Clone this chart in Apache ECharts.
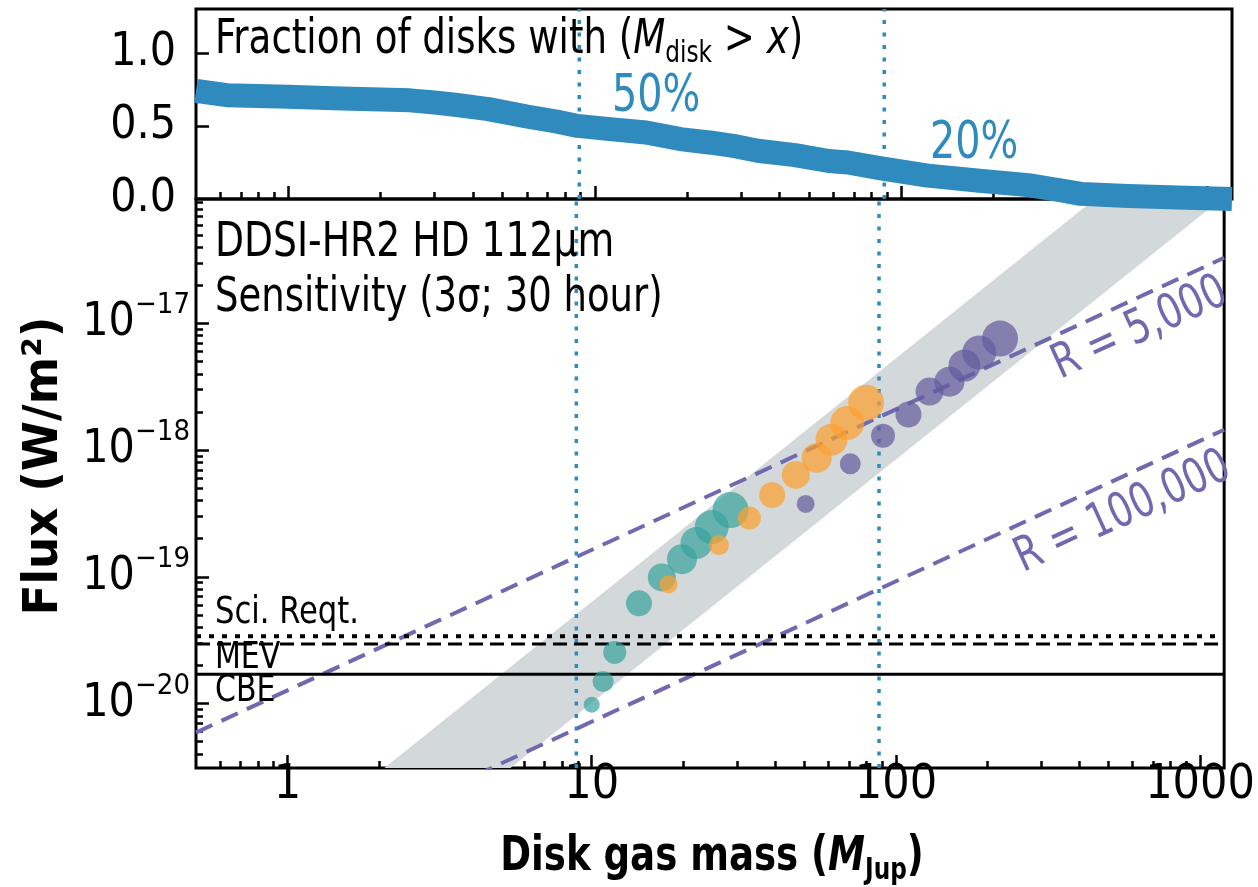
<!DOCTYPE html>
<html>
<head>
<meta charset="utf-8">
<script src="https://cdn.jsdelivr.net/npm/echarts@6/dist/echarts.min.js"></script>
<style>
  html, body { margin: 0; padding: 0; background: #fff; }
  #chart { width: 1258px; height: 887px; }
</style>
</head>
<body>
<div id="chart"></div>
<script>
// ---- data -------------------------------------------------------------
// cumulative fraction of disks with gas mass above x (top panel)
const fracMass  = [0.5, 0.63, 1.0, 1.4, 2.0, 2.5, 3.0, 3.5, 4.5, 6.0, 7.5, 8.8, 11, 14.7, 19, 24, 29, 34, 45, 58, 67, 86, 122, 180, 259, 330, 385, 550, 800, 1200];
const fracValue = [0.74, 0.71, 0.70, 0.69, 0.68, 0.675, 0.66, 0.645, 0.615, 0.565, 0.53, 0.50, 0.48, 0.455, 0.41, 0.385, 0.36, 0.33, 0.30, 0.26, 0.25, 0.21, 0.16, 0.125, 0.095, 0.06, 0.035, 0.02, 0.01, 0.0];

// disk models: [gas mass (M_Jup), HD 112um line flux (W/m^2), marker size]
const tealDisks = [
  [10.0, 9.8e-21, 16], [10.9, 1.49e-20, 21], [11.9, 2.53e-20, 23],
  [14.3, 6.18e-20, 26], [17.0, 9.9e-20, 28], [19.8, 1.38e-19, 30],
  [22.1, 1.85e-19, 32], [24.8, 2.47e-19, 34], [28.6, 3.37e-19, 36]
];
const orangeDisks = [
  [17.9, 8.73e-20, 18], [26.2, 1.78e-19, 20], [33.0, 2.91e-19, 23],
  [39.2, 4.43e-19, 26], [46.9, 6.37e-19, 28], [54.9, 8.69e-19, 30],
  [61.4, 1.21e-18, 32], [69.2, 1.64e-18, 34], [79.8, 2.37e-18, 36]
];
const purpleDisks = [
  [50.5, 3.76e-19, 18], [70.8, 7.8e-19, 21], [90.7, 1.30e-18, 24],
  [110, 1.91e-18, 26], [129, 2.90e-18, 28], [150, 3.47e-18, 30],
  [168, 4.65e-18, 32], [188, 5.89e-18, 34], [220, 7.6e-18, 36]
];

// model envelope (grey band): lower and upper edges
const bandUpper = [[0.5, 2.0e-22], [1200, 6.3e-16]];
const bandLower = [[0.5, 3.2e-23], [1200, 1.0e-16]];

// line sensitivity at two resolving powers
const r5000Line   = [[0.5, 5.9e-21], [1200, 3.3e-17]];
const r100000Line = [[0.5, 2.6e-22], [1200, 1.45e-18]];

// instrument sensitivity levels
const levelNames = ['Sci. Reqt.', 'MEV', 'CBE'];
const levelFlux  = [3.4e-20, 2.95e-20, 1.7e-20];

// masses where 50% and 20% of disks lie above
const splitMasses = [8.9, 88];
const splitLabels = ['50%', '20%'];

// axes
const massRange = [0.5, 1200];
const fluxRange = [3.1e-21, 9.6e-17];
const fracRange = [0, 1.3];
const massTicks = [1, 10, 100, 1000];
const massMinorTicks = [0.6, 0.7, 0.8, 0.9, 2, 3, 4, 5, 6, 7, 8, 9, 20, 30, 40, 50, 60, 70, 80, 90, 200, 300, 400, 500, 600, 700, 800, 900];
const fluxTicks = [1e-20, 1e-19, 1e-18, 1e-17];
const fluxMinorTicks = [4e-21, 5e-21, 6e-21, 7e-21, 8e-21, 9e-21,
  2e-20, 3e-20, 4e-20, 5e-20, 6e-20, 7e-20, 8e-20, 9e-20,
  2e-19, 3e-19, 4e-19, 5e-19, 6e-19, 7e-19, 8e-19, 9e-19,
  2e-18, 3e-18, 4e-18, 5e-18, 6e-18, 7e-18, 8e-18, 9e-18,
  2e-17, 3e-17, 4e-17, 5e-17, 6e-17, 7e-17, 8e-17, 9e-17];
const fracTickValues = [0.5, 1.0];
const fracLabelValues = [0, 0.5, 1.0];

// ---- styling ----------------------------------------------------------
const FONT = "'Liberation Sans Narrow','DejaVu Sans Condensed','Arial Narrow',sans-serif";
const BLUE = '#2f8bbe';
const PURPLE = '#7069af';

const tickStyle = (len) => ({ inside: true, length: len, lineStyle: { color: '#000', width: 2.5 } });

function massAxis(gridIndex, values, len, withLabels) {
  return {
    type: 'log', logBase: 10, gridIndex, position: 'bottom',
    min: massRange[0], max: massRange[1],
    axisLine: { show: false },
    splitLine: { show: false },
    axisTick: Object.assign(tickStyle(len), { customValues: values }),
    axisLabel: withLabels ? {
      customValues: values, margin: 6, lineHeight: 24,
      fontSize: 48, fontFamily: FONT, color: '#000',
      formatter: (v) => String(Math.round(v))
    } : { show: false }
  };
}

function fluxAxis(values, len, withLabels) {
  return {
    type: 'log', logBase: 10, gridIndex: 1, position: 'left',
    min: fluxRange[0], max: fluxRange[1],
    axisLine: { show: false },
    splitLine: { show: false },
    axisTick: Object.assign(tickStyle(len), { customValues: values }),
    axisLabel: withLabels ? {
      customValues: values, margin: 6,
      formatter: (v) => '{b|10}{s|\u2212' + Math.abs(Math.round(Math.log10(v))) + '}',
      rich: {
        b: { fontSize: 46, fontFamily: FONT, color: '#000', lineHeight: 64, verticalAlign: 'middle' },
        s: { fontSize: 29, fontFamily: FONT, color: '#000', lineHeight: 29, verticalAlign: 'top' }
      }
    } : { show: false }
  };
}

function lineSeries(xi, yi, data, color, width, type, z) {
  return {
    type: 'line', xAxisIndex: xi, yAxisIndex: yi, data,
    symbol: 'none', silent: true, z: z || 3,
    lineStyle: { color, width, type }
  };
}

function diskSeries(data, color) {
  return {
    type: 'scatter', xAxisIndex: 2, yAxisIndex: 1, data, z: 6,
    symbolSize: (d) => d[2],
    itemStyle: { color, opacity: 0.7 }
  };
}

const series = [];

// top panel: fraction curve
series.push({
  type: 'line', xAxisIndex: 0, yAxisIndex: 0,
  data: fracMass.map((m, i) => [m, fracValue[i]]),
  symbol: 'none', silent: true, z: 3,
  lineStyle: { color: BLUE, width: 24, join: 'round', cap: 'butt' }
});

// grey envelope
series.push({
  type: 'custom', xAxisIndex: 2, yAxisIndex: 1, clip: true, z: 1,
  data: [[massRange[0], fluxRange[0]]],
  renderItem: (params, api) => {
    const pts = bandUpper.map((p) => api.coord(p))
      .concat(bandLower.slice().reverse().map((p) => api.coord(p)));
    return { type: 'polygon', shape: { points: pts }, style: { fill: '#d3d8da' } };
  }
});

// vertical markers across both panels
splitMasses.forEach((m) => {
  series.push(lineSeries(0, 0, [[m, fracRange[0]], [m, fracRange[1]]], BLUE, 3.5, [4, 8.5], 2));
  series.push(lineSeries(2, 1, [[m, fluxRange[0]], [m, fluxRange[1]]], BLUE, 3.5, [4, 8.5], 2));
});

// resolving-power sensitivity lines
series.push(lineSeries(2, 1, r5000Line, PURPLE, 4, [18, 10], 4));
series.push(lineSeries(2, 1, r100000Line, PURPLE, 4, [18, 10], 4));

// instrument levels
const levelTypes = [[5, 8], [14, 7], 'solid'];
const levelWidths = [4, 3, 3];
levelFlux.forEach((f, i) => {
  series.push(lineSeries(2, 1, [[massRange[0], f], [massRange[1], f]], '#000', levelWidths[i], levelTypes[i], 4));
});

// disk models
series.push(diskSeries(tealDisks, '#38a39c'));
series.push(diskSeries(orangeDisks, '#fd9f2c'));
series.push(diskSeries(purpleDisks, '#645a9e'));

// ---- text -------------------------------------------------------------
function txt(x, y, text, opts) {
  opts = opts || {};
  return {
    type: 'text', x, y, rotation: opts.rotation || 0,
    scaleX: opts.sx || 1, scaleY: 1, z: 100, silent: true,
    style: {
      text, fill: opts.color || '#000',
      fontSize: opts.fontSize || 48, fontFamily: FONT, fontWeight: opts.weight || 'normal',
      align: opts.align || 'left', textAlign: opts.align || 'left',
      verticalAlign: 'middle', textVerticalAlign: 'middle',
      rich: opts.rich
    }
  };
}

const graphic = [
  txt(215, 41, '{n|Fraction of disks with (}{i|M}{sub|disk}{n| > }{i|x}{n|)}', {
    sx: 0.86,
    rich: {
      n: { fontSize: 48, fontFamily: FONT, lineHeight: 56 },
      i: { fontSize: 48, fontFamily: FONT, fontStyle: 'italic', lineHeight: 56 },
      sub: { fontSize: 30, fontFamily: FONT, lineHeight: 30, verticalAlign: 'bottom' }
    }
  }),
  txt(215, 244, 'DDSI-HR2 HD 112\u00b5m', { sx: 0.873 }),
  txt(215, 299, 'Sensitivity (3\u03c3; 30 hour)', { sx: 0.856 }),
  txt(215, 613, levelNames[0], { fontSize: 37, sx: 0.92 }),
  txt(215, 658, levelNames[1], { fontSize: 37, sx: 0.9 }),
  txt(215, 691, levelNames[2], { fontSize: 37, sx: 0.9 }),
  txt(612, 97, splitLabels[0], { color: BLUE, fontSize: 52, sx: 0.85 }),
  txt(930, 144, splitLabels[1], { color: BLUE, fontSize: 52, sx: 0.85 }),
  txt(1140, 329, 'R = 5,000', { color: PURPLE, align: 'center', rotation: 0.428, sx: 0.86 }),
  txt(1123, 513, 'R = 100,000', { color: PURPLE, align: 'center', rotation: 0.428, sx: 0.85 }),
  txt(45, 466, 'Flux (W/m\u00b2)', { align: 'center', rotation: Math.PI / 2, weight: 'bold', sx: 1.05 }),
  txt(712, 858, '{n|Disk gas mass (}{i|M}{sub|Jup}{n|)}', {
    align: 'center', sx: 0.86,
    rich: {
      n: { fontSize: 48, fontFamily: FONT, fontWeight: 'bold', lineHeight: 56 },
      i: { fontSize: 48, fontFamily: FONT, fontWeight: 'bold', fontStyle: 'italic', lineHeight: 56 },
      sub: { fontSize: 30, fontFamily: FONT, fontWeight: 'bold', lineHeight: 30, verticalAlign: 'bottom' }
    }
  })
];

// ---- chart ------------------------------------------------------------
const chart = echarts.init(document.getElementById('chart'));
chart.setOption({
  animation: false,
  backgroundColor: '#fff',
  grid: [
    { left: 196, top: 9, width: 1036, height: 190, show: true, borderColor: '#000', borderWidth: 3, backgroundColor: 'transparent' },
    { left: 196, top: 199, width: 1036, height: 569, show: true, borderColor: '#000', borderWidth: 3, backgroundColor: 'transparent' }
  ],
  xAxis: [
    massAxis(0, massTicks, 13, false),
    massAxis(0, massMinorTicks, 7, false),
    massAxis(1, massTicks, 13, true),
    massAxis(1, massMinorTicks, 7, false)
  ],
  yAxis: [
    {
      type: 'value', gridIndex: 0, position: 'left',
      min: fracRange[0], max: fracRange[1],
      axisLine: { show: false }, splitLine: { show: false },
      axisTick: Object.assign(tickStyle(13), { customValues: fracTickValues }),
      axisLabel: {
        customValues: fracLabelValues, margin: 20, fontSize: 46, fontFamily: FONT, color: '#000',
        formatter: (v) => v.toFixed(1)
      }
    },
    fluxAxis(fluxTicks, 13, true),
    fluxAxis(fluxMinorTicks, 7, false)
  ],
  series,
  graphic
});
</script>
</body>
</html>
